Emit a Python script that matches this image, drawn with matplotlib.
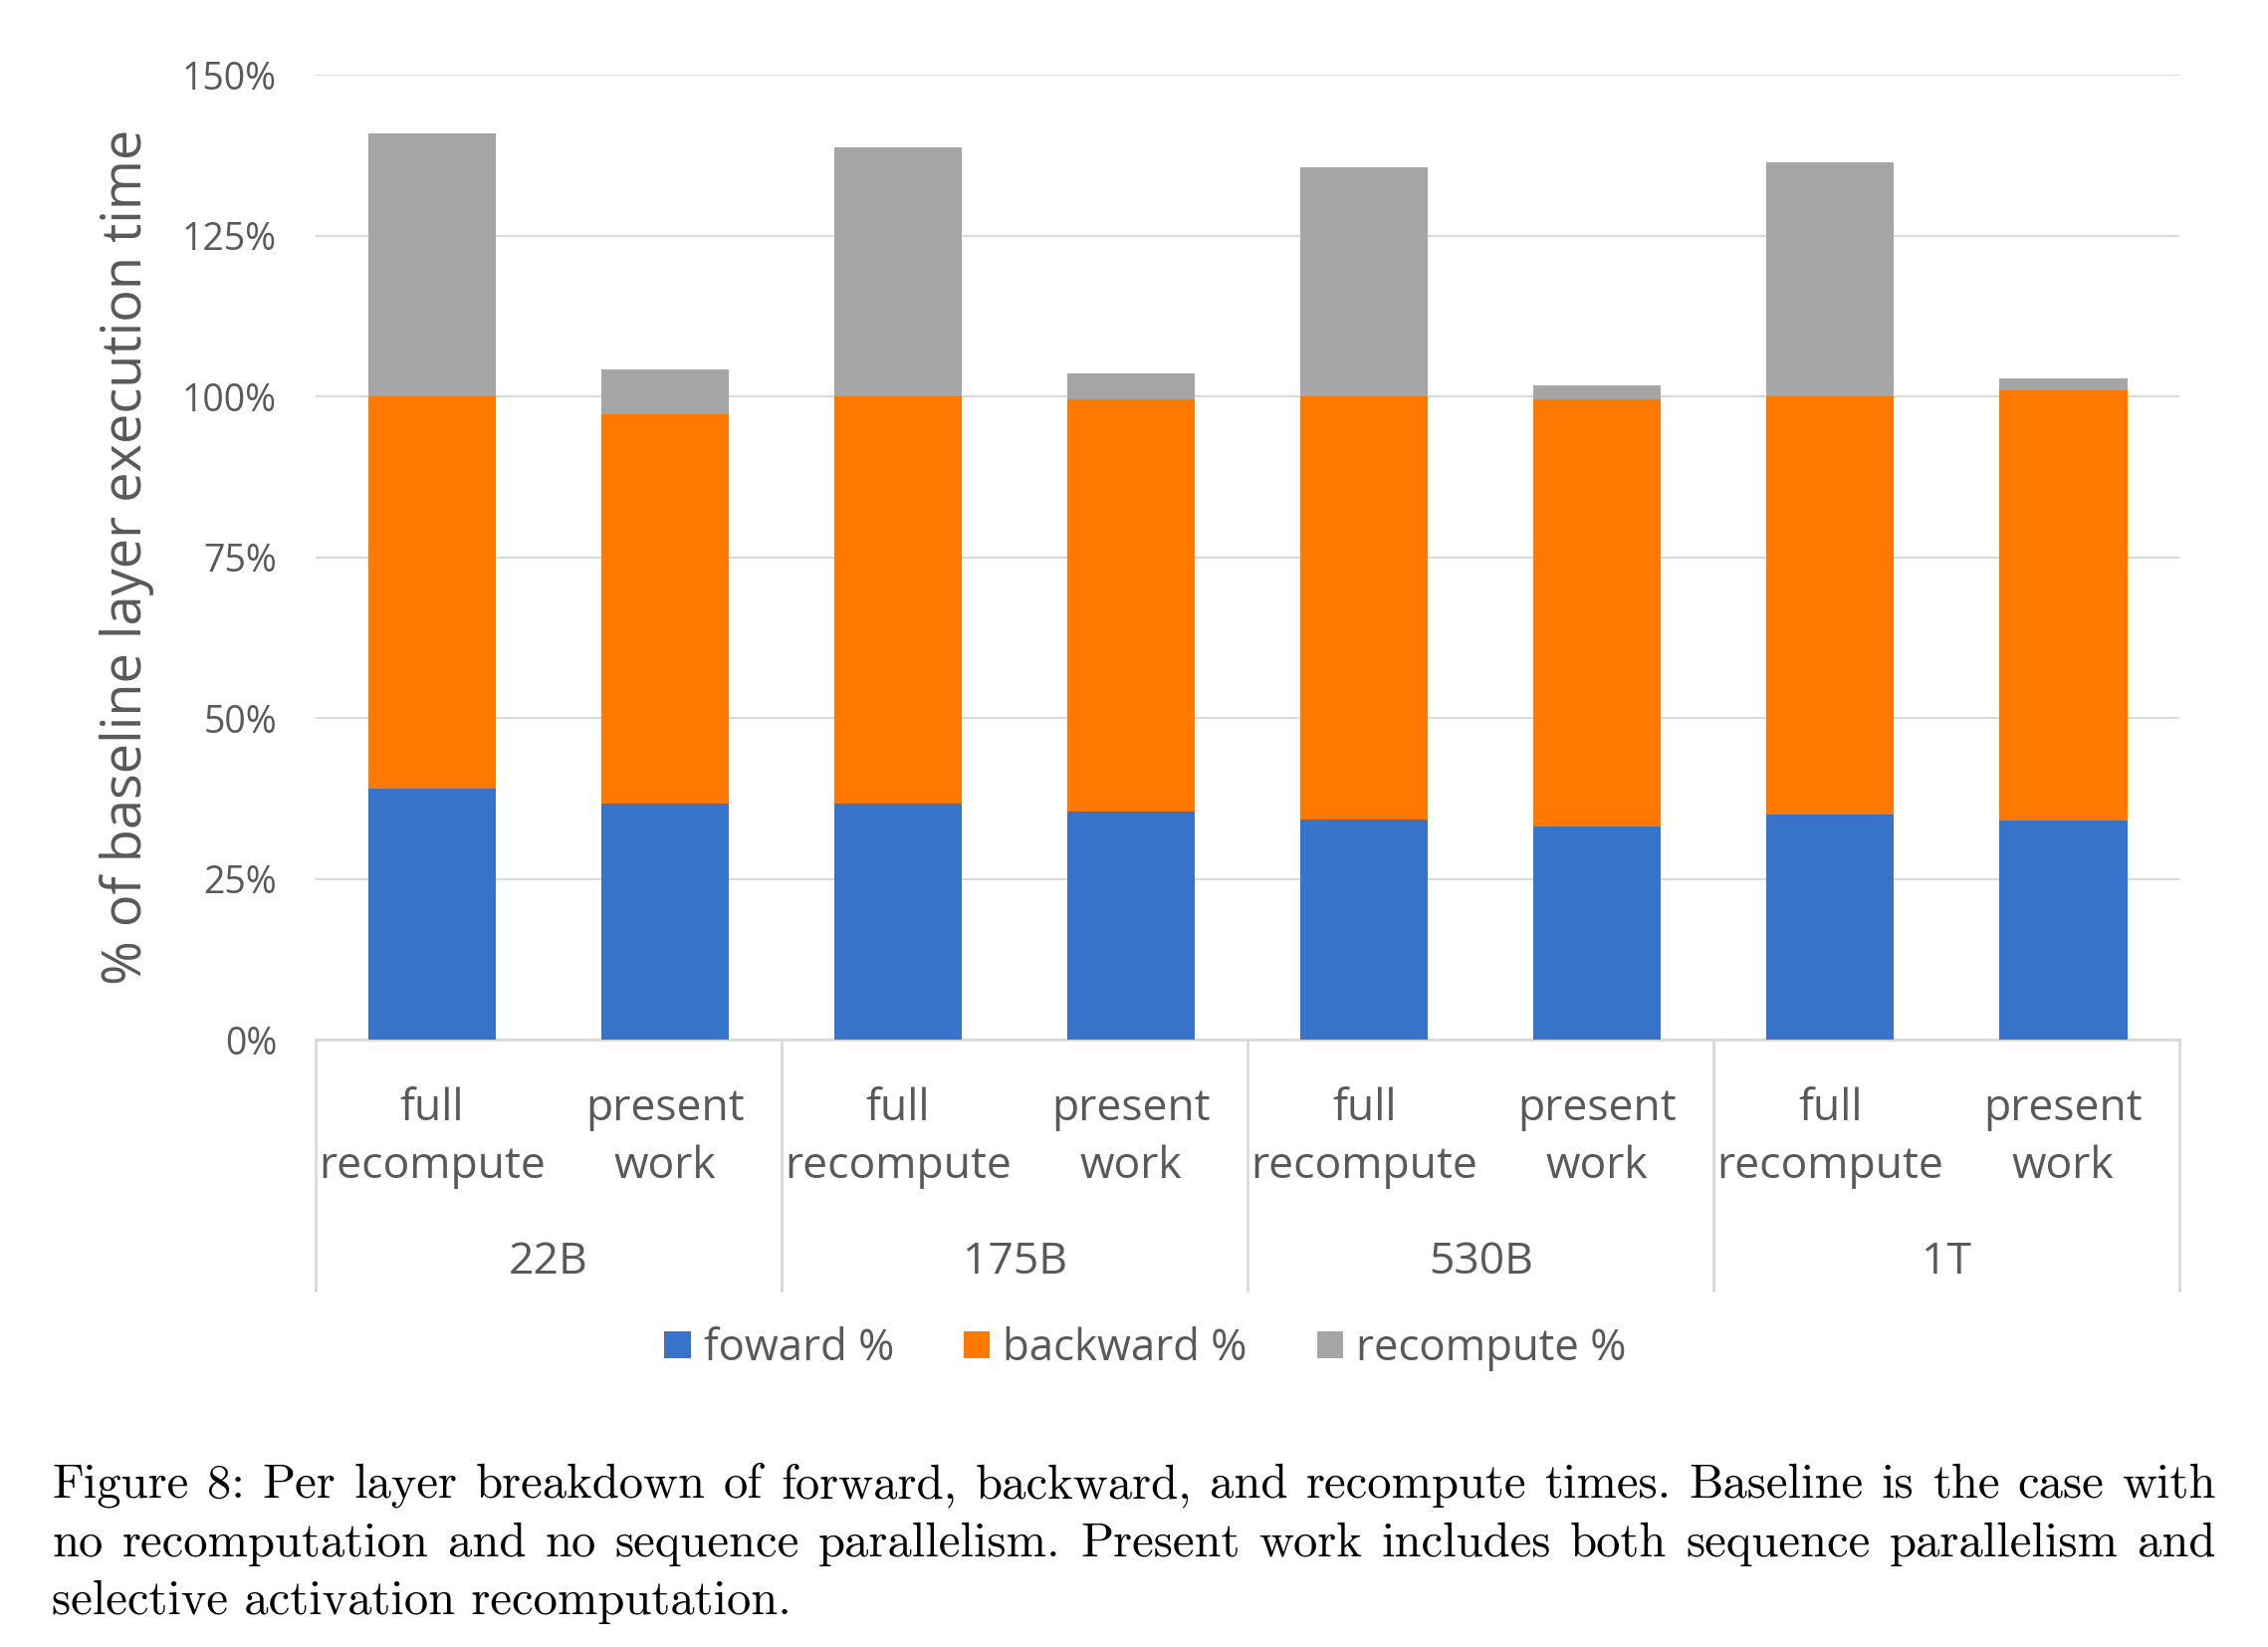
"""
Per layer breakdown of forward / backward / recompute times, stacked bars
with a two-level category axis and the figure caption below.
"""

import matplotlib
matplotlib.use("Agg")
import matplotlib.pyplot as plt
from matplotlib.patches import Patch

# data (percent of baseline layer time)
models = ["22B", "175B", "530B", "1T"]
methods = ["full\nrecompute", "present\nwork"]
forward = [39.1, 36.7, 36.7, 35.5, 34.3, 33.2, 35.0, 34.1]
backward = [60.9, 60.6, 63.3, 64.1, 65.7, 66.4, 65.0, 66.9]
recompute = [40.9, 7.0, 38.7, 4.0, 35.6, 2.1, 36.5, 1.8]
series_names = ["foward %", "backward %", "recompute %"]
yticks = [0, 25, 50, 75, 100, 125, 150]

caption_lines = [
    "Figure 8: Per layer breakdown of forward, backward, and recompute times. Baseline is the case with",
    "no recomputation and no sequence parallelism. Present work includes both sequence parallelism and",
    "selective activation recomputation.",
]

colors = ["#3673C9", "#FF7800", "#A5A5A5"]
text_grey = "#595959"
line_grey = "#D9D9D9"

plt.rcParams["font.family"] = ["Open Sans", "DejaVu Sans"]

fig = plt.figure(figsize=(22.78, 16.54), dpi=100)
ax = fig.add_axes([0.1392, 0.3688, 0.9610 - 0.1392, 0.9544 - 0.3688])

x = list(range(len(forward)))
bottom2 = [f + b for f, b in zip(forward, backward)]
ax.bar(x, forward, width=0.55, color=colors[0], zorder=3)
ax.bar(x, backward, width=0.55, bottom=forward, color=colors[1], zorder=3)
ax.bar(x, recompute, width=0.55, bottom=bottom2, color=colors[2], zorder=3)

ax.set_xlim(-0.5, len(forward) - 0.5)
ax.set_ylim(0, 150)
ax.set_yticks(yticks)
ax.set_yticklabels([f"{v}%" for v in yticks], fontsize=27, color=text_grey)
ax.tick_params(axis="y", length=0, pad=28)
ax.set_xticks([])
ax.yaxis.grid(True, color=line_grey, linewidth=1.5, zorder=0)
for side in ["left", "right", "top"]:
    ax.spines[side].set_visible(False)
ax.spines["bottom"].set_color(line_grey)
ax.spines["bottom"].set_linewidth(2)

ax.set_ylabel("% of baseline layer execution time", fontsize=39, color=text_grey, labelpad=20)

# two-level category axis
for i in x:
    ax.text(i, -15.3, methods[i % 2], ha="center", va="center", fontsize=32,
            color=text_grey, linespacing=1.42, clip_on=False)
for g, name in enumerate(models):
    ax.text(2 * g + 0.5, -34.6, name, ha="center", va="center", fontsize=32,
            color=text_grey, clip_on=False)
for g in range(len(models) + 1):
    ax.plot([2 * g - 0.5, 2 * g - 0.5], [0, -39], color=line_grey, linewidth=2, clip_on=False)

handles = [Patch(facecolor=c, edgecolor="none") for c in colors]
fig.legend(handles, series_names, loc="center", bbox_to_anchor=(0.505, 0.181), ncol=3,
           frameon=False, fontsize=31.5, labelcolor=text_grey, handlelength=0.6,
           handleheight=0.6, handletextpad=0.3, columnspacing=1.6)

# caption, justified like the LaTeX original
cap_kw = dict(fontsize=35, family="cmr10", va="baseline", color="black")
x0, x1 = 0.0229, 0.977
baselines = [0.0907, 0.0552, 0.0197]
renderer = fig.canvas.get_renderer()
W = fig.bbox.width
for line, yb in zip(caption_lines[:-1], baselines[:-1]):
    words = line.split()
    texts = [fig.text(0, yb, w, **cap_kw) for w in words]
    widths = [t.get_window_extent(renderer).width for t in texts]
    gap = ((x1 - x0) * W - sum(widths)) / (len(words) - 1)
    pos = x0 * W
    for t, w in zip(texts, widths):
        t.set_x(pos / W)
        pos += w + gap
fig.text(x0, baselines[-1], caption_lines[-1], **cap_kw)

fig.savefig("out.png", dpi=100)
